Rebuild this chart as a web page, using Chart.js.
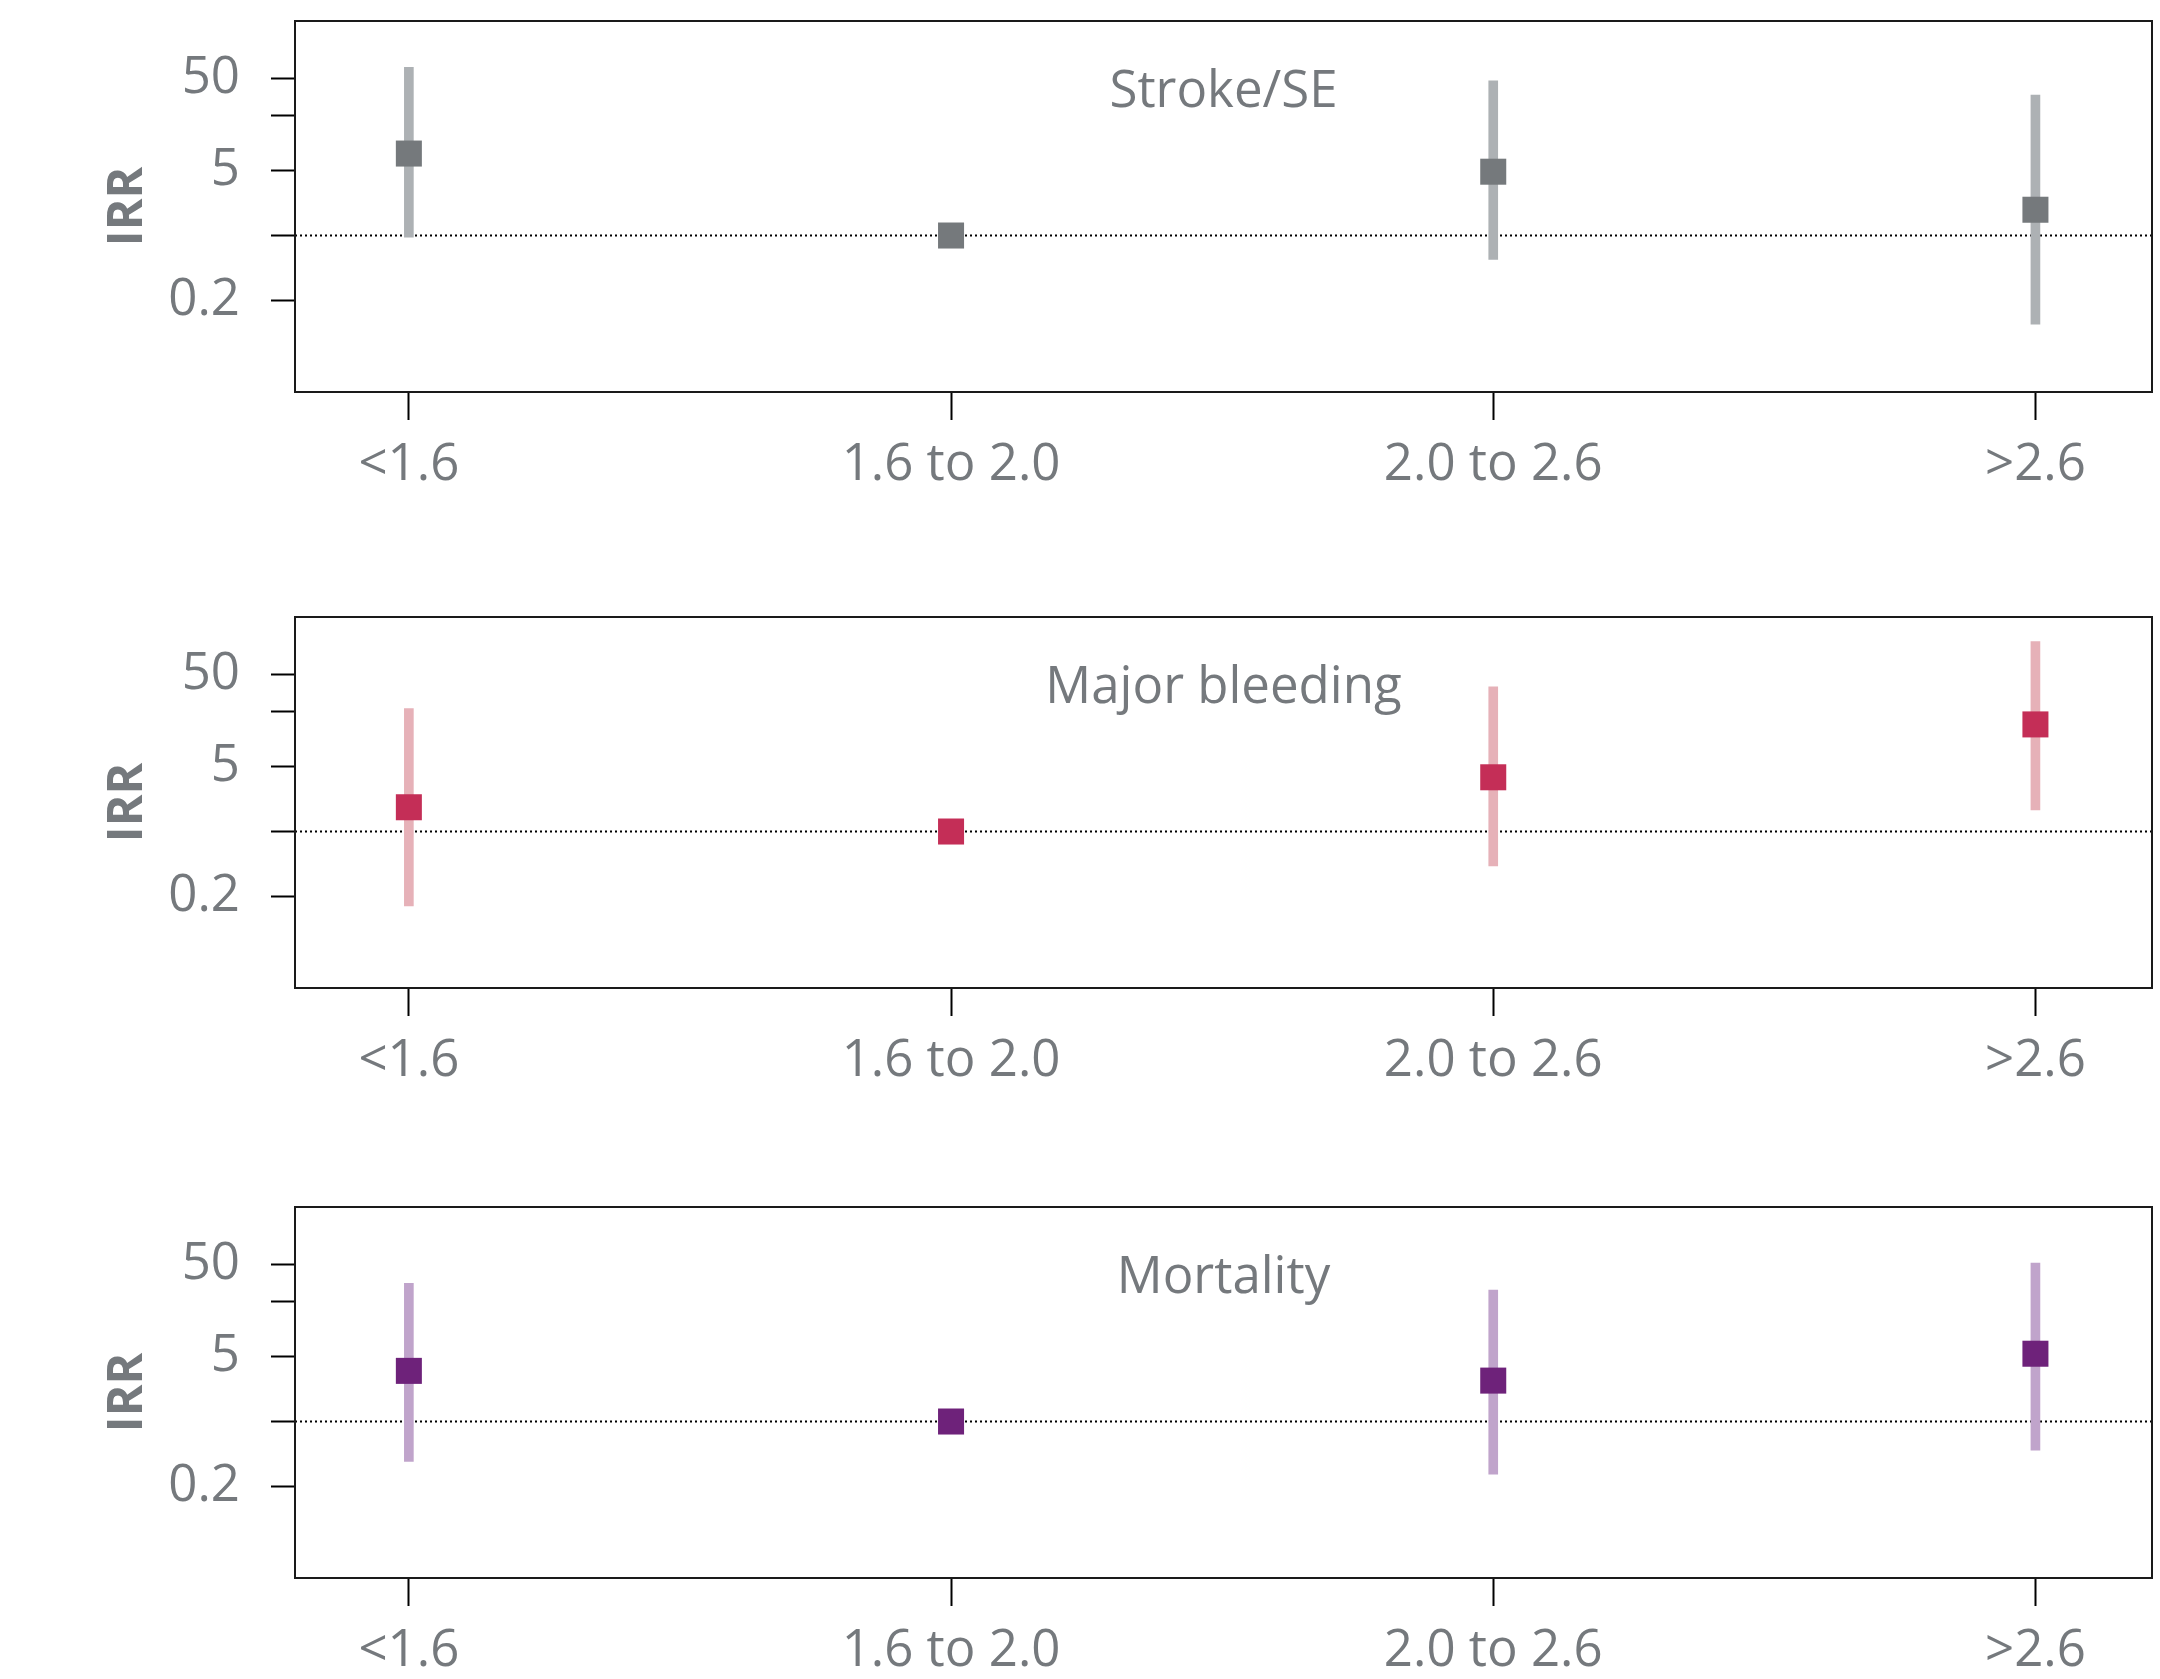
<!DOCTYPE html>
<html>
<head>
<meta charset="utf-8">
<script src="https://cdn.jsdelivr.net/npm/chart.js@4.4.1/dist/chart.umd.min.js"></script>
<style>
  html, body { margin: 0; padding: 0; background: #fff; }
  body { width: 2160px; height: 1679px; position: relative; overflow: hidden; }
  .panel { position: absolute; left: 0; width: 2160px; height: 490px; }
</style>
</head>
<body>
<div class="panel" style="top:0px"><canvas id="stroke"></canvas></div>
<div class="panel" style="top:596px"><canvas id="bleeding"></canvas></div>
<div class="panel" style="top:1186px"><canvas id="mortality"></canvas></div>
<script>
// categories and axis ticks
const categories = ["<1.6", "1.6 to 2.0", "2.0 to 2.6", ">2.6"];
const yTicks = [0.2, 1, 5, 20, 50];
const yTickLabels = ["0.2", "", "5", "", "50"];
const xMin = 0.79, xMax = 4.215;
const yMin = 0.0203, yMax = 209;

// Stroke/SE
const strokeIRR = [7.7, 1, 4.9, 1.9];
const strokeLow = [0.96, null, 0.55, 0.11];
const strokeHigh = [66, null, 47, 33];

// Major bleeding
const bleedIRR = [1.83, 1, 3.86, 14.4];
const bleedLow = [0.157, null, 0.425, 1.71];
const bleedHigh = [21.3, null, 36.8, 113];

// Mortality
const mortIRR = [3.53, 1, 2.77, 5.41];
const mortLow = [0.37, null, 0.27, 0.49];
const mortHigh = [31.2, null, 26.4, 51.6];

const TEXT = "#75797d";
Chart.defaults.font.family = "'Open Sans', sans-serif";
Chart.defaults.color = TEXT;

// frame around the plot area + panel name inside it
const boxPlugin = {
  id: "box",
  afterDatasetsDraw(chart, args, opts) {
    const { ctx, chartArea: a } = chart;
    ctx.save();
    ctx.strokeStyle = "#1a1a1a";
    ctx.lineWidth = 2;
    ctx.strokeRect(a.left, a.top, a.right - a.left, a.bottom - a.top);
    ctx.fillStyle = TEXT;
    ctx.font = "51px 'Open Sans'";
    ctx.textAlign = "center";
    ctx.textBaseline = "middle";
    ctx.fillText(opts.text, (a.left + a.right) / 2, a.top + 71);
    ctx.restore();
  }
};

function makePanel(id, name, irr, low, high, markColor, ciColor) {
  const points = categories.map((c, i) => ({ x: i + 1, y: irr[i] }));
  const ci = [];
  categories.forEach((c, i) => {
    if (low[i] != null) ci.push({ x: i + 1, y: [low[i], high[i]] });
  });

  new Chart(document.getElementById(id), {
    type: "scatter",
    data: {
      datasets: [
        {
          type: "line",
          data: [{ x: xMin, y: 1 }, { x: xMax, y: 1 }],
          borderColor: "#000",
          borderWidth: 2,
          borderDash: [2, 3],
          pointRadius: 0,
          order: 3
        },
        {
          type: "bar",
          data: ci,
          backgroundColor: ciColor,
          barThickness: 9,
          order: 2
        },
        {
          data: points,
          pointStyle: "rect",
          pointRadius: 18.4,
          backgroundColor: markColor,
          borderWidth: 0,
          order: 1
        }
      ]
    },
    options: {
      responsive: true,
      maintainAspectRatio: false,
      animation: false,
      layout: { autoPadding: false, padding: { top: 21, right: 8, left: 0, bottom: 0 } },
      plugins: {
        legend: { display: false },
        tooltip: { enabled: false },
        box: { text: name }
      },
      scales: {
        x: {
          type: "linear",
          min: xMin,
          max: xMax,
          offset: false,
          afterBuildTicks: (s) => { s.ticks = categories.map((c, i) => ({ value: i + 1 })); },
          afterFit: (s) => { s.height = 98; s.paddingLeft = 0; s.paddingRight = 0; },
          ticks: {
            callback: (v) => categories[v - 1],
            font: { size: 51 },
            color: TEXT,
            padding: 15,
            maxRotation: 0,
            autoSkip: false
          },
          grid: { offset: false, drawOnChartArea: false, tickLength: 28, tickColor: "#000", tickWidth: 2 },
          border: { display: false }
        },
        y: {
          type: "logarithmic",
          min: yMin,
          max: yMax,
          afterBuildTicks: (s) => { s.ticks = yTicks.map((v) => ({ value: v })); },
          afterFit: (s) => { s.width = 295; s.paddingTop = 0; s.paddingBottom = 0; },
          ticks: {
            callback: (v, i) => yTickLabels[i],
            font: { size: 51 },
            color: TEXT,
            padding: 31,
            autoSkip: false
          },
          grid: { drawOnChartArea: false, tickLength: 24, tickColor: "#000", tickWidth: 2 },
          border: { display: false },
          title: {
            display: true,
            text: "IRR",
            font: { size: 48, weight: "bold" },
            color: TEXT,
            padding: { top: 100, bottom: 0 }
          }
        }
      }
    },
    plugins: [boxPlugin]
  });
}

makePanel("stroke", "Stroke/SE", strokeIRR, strokeLow, strokeHigh, "#75797c", "#adb1b4");
makePanel("bleeding", "Major bleeding", bleedIRR, bleedLow, bleedHigh, "#c42e57", "#e6b1b8");
makePanel("mortality", "Mortality", mortIRR, mortLow, mortHigh, "#6e227a", "#c0a4cb");
</script>
</body>
</html>
